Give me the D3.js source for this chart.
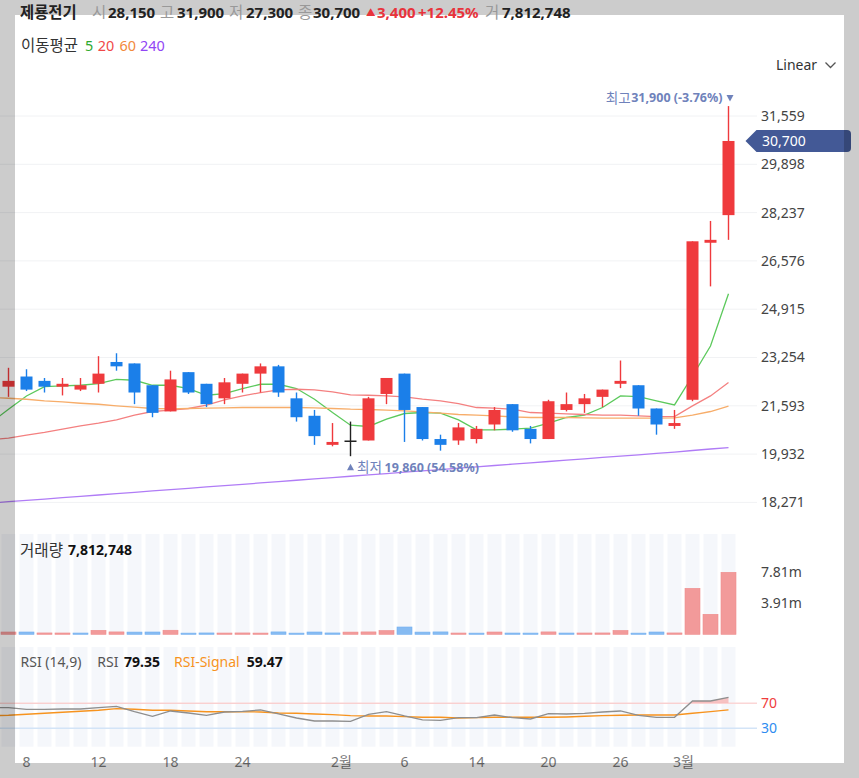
<!DOCTYPE html>
<html><head><meta charset="utf-8">
<script src="https://cdn.jsdelivr.net/npm/d3@7"></script>
<style>
html,body{margin:0;padding:0;background:#fff;}
svg{display:block;font-family:"Noto Sans","Noto Sans CJK KR",sans-serif;}
.kr{font-family:"Noto Sans CJK KR","Noto Sans",sans-serif;}
</style></head><body>
<svg id="c" width="859" height="778"></svg>
<script>
// ---------------- data ----------------
const stockName = "제룡전기";
const leadDate = "01-04"; // session before the first visible candle (only for indicator lines)
const dates = ["01-05","01-08","01-09","01-10","01-11","01-12","01-15","01-16","01-17","01-18","01-19","01-22","01-23","01-24","01-25","01-26","01-29","01-30","01-31","02-01","02-02","02-05","02-06","02-07","02-08","02-13","02-14","02-15","02-16","02-19","02-20","02-21","02-22","02-23","02-26","02-27","02-28","02-29","03-04","03-05","03-06"];
const open  = [22250,22600,22450,22250,22150,22350,23100,23050,22300,21400,22750,22350,21850,22350,22700,22950,21850,21250,20250,20400,20400,22000,22700,21550,20450,20400,20450,20950,21650,20800,20450,21450,21650,21900,22350,22300,21500,20900,21800,27200,28150];
const high  = [22900,22850,22550,22550,22550,23300,23400,23050,22300,22800,22750,22350,22550,22700,23050,23000,22050,21450,21000,21050,21900,22550,22700,21550,20600,21000,20900,21550,21650,20900,21800,22050,22000,22150,23150,22300,21500,21450,27250,27950,31900];
const low   = [21900,22100,22050,21950,22100,22050,22800,21650,21200,21400,22000,21550,21650,22050,22050,21900,21050,20250,20200,19860,20400,21650,20350,20400,20050,20250,20300,20750,20700,20300,20450,21400,21350,21550,22200,21250,20600,20800,21750,25700,27300];
const close = [22450,22150,22250,22350,22300,22700,22950,22050,21350,22500,22050,21650,22400,22700,22950,22050,21200,20550,20350,20400,21850,22550,21450,20450,20250,20850,20800,21450,20750,20450,21750,21650,21850,22150,22450,21500,20950,21000,27250,27300,30700];
const prevClose = 22200;
const volume = [290000,290000,170000,165000,160000,500000,300000,280000,290000,510000,150000,170000,160000,170000,155000,300000,150000,290000,170000,280000,300000,470000,920000,280000,300000,160000,150000,290000,160000,155000,300000,160000,165000,170000,480000,150000,290000,170000,5790000,2520000,7812748];
// indicator series: first value belongs to leadDate
const ma5   = [20996,21476,21932,22254,22275,22299,22357,22505,22471,22299,22299,22186,21956,22014,22186,22334,22334,22186,21819,21362,20927,20882,21133,21328,21362,21339,21109,20766,20766,20789,20824,20996,21191,21270,21534,21932,21911,21761,21623,22618,23647,25444];
const ma20  = [20423,20481,20584,20677,20790,20903,20996,21109,21270,21397,21441,21500,21613,21795,21932,22048,22138,22162,22138,22069,21966,21956,21932,21898,21819,21760,21671,21534,21510,21476,21362,21338,21315,21293,21270,21270,21247,21224,21224,21589,21932,22391];
const ma60  = [21877,21853,21819,21760,21726,21681,21647,21589,21544,21500,21486,21500,21510,21521,21534,21534,21534,21534,21521,21500,21476,21466,21441,21418,21383,21339,21294,21270,21247,21212,21191,21191,21191,21178,21167,21167,21167,21167,21178,21270,21397,21579];
const ma240 = [18250,18295,18341,18387,18433,18479,18525,18572,18618,18664,18710,18756,18802,18848,18894,18940,18986,19033,19079,19125,19171,19217,19263,19309,19355,19401,19447,19494,19540,19586,19632,19678,19724,19770,19816,19862,19908,19955,20001,20056,20107,20152];
const rsi    = [63.5,63.0,60.4,60.4,60.9,60.9,63.0,65.2,56.6,49.2,57.7,54.5,50.8,56.1,57.2,59.3,52.9,46.5,41.7,41.7,41.2,52.4,56.6,49.7,43.5,42.8,47.0,47.0,51.3,47.0,44.9,53.4,52.9,54.0,56.1,57.7,50.8,47.6,47.6,73.7,73.7,79.35];
const signal = [50.2,50.8,52.4,54.0,55.6,57.2,58.8,61.4,60.4,58.8,58.8,57.7,56.6,56.6,56.6,56.1,54.5,54.0,52.9,51.8,50.2,49.7,49.7,48.6,47.6,47.6,46.5,47.0,47.6,47.6,47.6,47.6,48.1,49.2,50.2,50.8,51.3,51.3,51.3,54.0,56.6,59.47];
const maPeriods = [5,20,60,240];
const priceTicks = [18271,19932,21593,23254,24915,26576,28237,29898,31559];
const volumeTicks = [3906374,7812748];
const rsiLevels = [70,30];
const xTickDates  = ["01-08","01-12","01-18","01-24","02-01","02-06","02-14","02-20","02-26","03-04"];
const xTickLabels = ["8","12","18","24","2월","6","14","20","26","3월"];

// ---------------- style ----------------
const C_UP="#ef3a3d", C_DN="#1b7fe9", C_FLAT="#222";
const maColors=["#5cc95c","#f48080","#f7ad6a","#b07cf6"];
const legColors=["#2eaa2e","#f04848","#f2893a","#9146f5"];
const annoColor="#6f82bb";
const FONT='"Noto Sans","Noto Sans CJK KR",sans-serif';

const svg=d3.select("#c");
const allDates=[leadDate,...dates];
const x=d3.scaleBand().domain(allDates).range([-18.5,737.5]).paddingInner(0).paddingOuter(0);
const cx=d=>x(d)+x.bandwidth()/2;
const y=d3.scaleLinear().domain([18271,31559]).range([502.4,116]);
const yv=d3.scaleLinear().domain([0,7812748]).range([634.3,572.3]);
const yr=d3.scaleLinear().domain([30,70]).range([728.3,703.3]);
const fmt=d3.format(",");
const f2=v=>d3.format(".2f")(v).replace("\u2212","-");

const candles=dates.map((d,i)=>({d,o:open[i],h:high[i],l:low[i],c:close[i],v:volume[i],pc:i?close[i-1]:prevClose}));

// helper for absolutely placed text pieces
function put(xp,yp,str,opt={}){
  const t=svg.append("text").attr("x",xp).attr("y",yp).attr("dy","0.35em")
    .attr("font-size",opt.size||14).attr("fill",opt.color||"#222").text(str);
  if(opt.bold) t.attr("font-weight","bold");
  if(opt.kr) t.attr("class","kr");
  if(opt.anchor) t.attr("text-anchor",opt.anchor);
  if(opt.len) t.attr("textLength",opt.len).attr("lengthAdjust","spacingAndGlyphs");
  return t;
}

// grid lines
svg.append("g").selectAll("line").data(priceTicks).join("line")
  .attr("x1",0).attr("x2",757).attr("y1",d=>y(d)).attr("y2",d=>y(d))
  .attr("stroke","#f1f2f4").attr("stroke-width",1);

// y axis labels
const ya=svg.append("g").attr("transform","translate(757,0)")
  .call(d3.axisRight(y).tickValues(priceTicks).tickFormat(fmt).tickSize(0).tickPadding(4));
ya.select(".domain").remove();
ya.selectAll("text").attr("font-size",14).attr("fill","#444").attr("font-family",FONT);

// MA lines
const maSeries=[ma5,ma20,ma60,ma240];
const line=d3.line().x((v,j)=>cx(allDates[j])).y(v=>y(v));
maSeries.forEach((s,k)=>{
  svg.append("path").attr("d",line(s)).attr("fill","none").attr("stroke",maColors[k]).attr("stroke-width",1.3);
});

// candles
const colOf=c=>c.c>c.o?C_UP:(c.c<c.o?C_DN:C_FLAT);
const cg=svg.append("g");
cg.selectAll("line").data(candles).join("line")
  .attr("x1",c=>cx(c.d)).attr("x2",c=>cx(c.d)).attr("y1",c=>y(c.h)).attr("y2",c=>y(c.l))
  .attr("stroke",colOf).attr("stroke-width",1.4);
cg.selectAll("rect").data(candles).join("rect")
  .attr("x",c=>cx(c.d)-6).attr("width",12)
  .attr("y",c=>y(Math.max(c.o,c.c)))
  .attr("height",c=>Math.max(1.5,Math.abs(y(c.o)-y(c.c))))
  .attr("fill",colOf);

// high / low annotations
const iHi=d3.maxIndex(high), iLo=d3.minIndex(low), last=close.length-1;
const hx=cx(dates[iHi]), hy=y(high[iHi])-8;
put(605.7,hy,"최고",{kr:true,size:13.5,color:annoColor,len:25});
put(hx-6,hy,fmt(high[iHi])+" ("+f2((close[last]-high[iHi])/high[iHi]*100)+"%)",{bold:true,size:12.5,color:annoColor,anchor:"end"});
svg.append("path").attr("d",`M${hx-2},${hy-3}L${hx+5},${hy-3}L${hx+1.5},${hy+3.5}Z`).attr("fill",annoColor);
const lx=cx(dates[iLo]), ly=y(low[iLo])+11;
svg.append("path").attr("d",`M${lx-3.5},${ly+3}L${lx+3.5},${ly+3}L${lx},${ly-3.5}Z`).attr("fill",annoColor);
put(lx+6.5,ly,"최저",{kr:true,size:13.5,color:annoColor,len:25});
put(lx+34,ly,fmt(low[iLo])+" ("+f2((close[last]-low[iLo])/low[iLo]*100)+"%)",{bold:true,size:12.5,color:annoColor});

// current price tag
const ty=y(close[last]);
svg.append("path").attr("d",`M745.5,${ty}L756.5,${ty-11}L847,${ty-11}Q851,${ty-11} 851,${ty-7}L851,${ty+7}Q851,${ty+11} 847,${ty+11}L756.5,${ty+11}Z`).attr("fill","#435996");
put(762,ty,fmt(close[last]),{color:"#fff"});

// Linear selector
put(776,65,"Linear",{color:"#333"});
svg.append("path").attr("d","M825.5,62.5L830.5,67.5L835.5,62.5").attr("fill","none").attr("stroke","#555").attr("stroke-width",1.3);

// MA legend
put(21,45.5,"이동평균",{color:"#333",kr:true,size:15.5,len:57});
const legX=[85,97.7,119.5,140];
maPeriods.forEach((p,k)=>put(legX[k],45.5,String(p),{color:legColors[k],size:14.4}));

// ---- volume pane ----
svg.append("g").selectAll("rect").data(dates).join("rect").attr("x",d=>cx(d)-7).attr("width",14).attr("y",534).attr("height",100.3).attr("fill","#f5f7fb");
const vcol=c=>c.c>=c.pc;
svg.append("g").selectAll("rect").data(candles).join("rect")
  .attr("x",c=>cx(c.d)-7.5).attr("width",15)
  .attr("y",c=>yv(c.v)).attr("height",c=>yv(0)-yv(c.v))
  .attr("fill",c=>vcol(c)?"#f29a9a":"#86bbf2")
  .attr("stroke",c=>vcol(c)?"#ef8c8c":"#74b0f0").attr("stroke-width",0.6);
const va=svg.append("g").attr("transform","translate(757,0)")
  .call(d3.axisRight(yv).tickValues(volumeTicks).tickFormat(v=>(v/1e6).toFixed(2)+"m").tickSize(0).tickPadding(4));
va.select(".domain").remove();
va.selectAll("text").attr("font-size",14).attr("fill","#444").attr("font-family",FONT);
put(20,550.5,"거래량",{color:"#333",kr:true,size:15.5,len:43});
put(68,550.5,fmt(volume[last]),{bold:true,color:"#111"});

// ---- RSI pane ----
svg.append("g").selectAll("rect").data(dates).join("rect").attr("x",d=>cx(d)-7).attr("width",14).attr("y",647).attr("height",99.7).attr("fill","#f5f7fb");
svg.append("line").attr("x1",0).attr("x2",757).attr("y1",yr(70)).attr("y2",yr(70)).attr("stroke","#fbd6d6").attr("stroke-width",1.5);
svg.append("line").attr("x1",0).attr("x2",757).attr("y1",yr(30)).attr("y2",yr(30)).attr("stroke","#d3e4f7").attr("stroke-width",1.5);
svg.append("defs").append("clipPath").attr("id","ob").append("rect").attr("x",0).attr("y",600).attr("width",859).attr("height",yr(70)-600);
svg.append("path").attr("clip-path","url(#ob)")
  .attr("d",d3.area().x((v,j)=>cx(allDates[j])).y0(yr(70)).y1(v=>yr(v))(rsi))
  .attr("fill","#f6b4b4").attr("opacity",0.8);
const rl=d3.line().x((v,j)=>cx(allDates[j])).y(v=>yr(v));
svg.append("path").attr("d",rl(signal)).attr("fill","none").attr("stroke","#f7931e").attr("stroke-width",1.4);
svg.append("path").attr("d",rl(rsi)).attr("fill","none").attr("stroke","#8e8e8e").attr("stroke-width",1.3);
rsiLevels.forEach(d=>put(761,yr(d),String(d),{color:d===70?"#f03c3c":"#2e8cf0"}));
put(20.5,662.5,"RSI (14,9)",{color:"#555"});
put(97.3,662.5,"RSI",{color:"#555"});
put(124,662.5,f2(rsi[rsi.length-1]),{bold:true,color:"#111"});
put(174,662.5,"RSI-Signal",{color:"#f7931e"});
put(246.7,662.5,f2(signal[signal.length-1]),{bold:true,color:"#111"});

// x axis
const xa=svg.append("g").attr("transform","translate(0,757)")
  .call(d3.axisBottom(x).tickValues(xTickDates).tickFormat((d,i)=>xTickLabels[i]).tickSize(0).tickPadding(0));
xa.select(".domain").remove();
xa.selectAll("text").attr("font-size",14).attr("fill","#777").attr("dy","0.71em")
  .attr("font-family",FONT)
  .attr("transform",(d,i)=>/월/.test(xTickLabels[i])?"translate(-9,0)":null);

// ---- frame overlay ----
const ov=svg.append("g").attr("fill","#000").attr("fill-opacity",0.2);
ov.append("rect").attr("x",0).attr("y",0).attr("width",859).attr("height",15);
ov.append("rect").attr("x",0).attr("y",763).attr("width",859).attr("height",15);
ov.append("rect").attr("x",0).attr("y",15).attr("width",15).attr("height",748);
ov.append("rect").attr("x",844).attr("y",15).attr("width",15).attr("height",748);

// ---- header ----
const chg=close[last]-close[last-1], pct=chg/close[last-1]*100;
const HY=13;
put(20,HY,stockName,{bold:true,kr:true,size:15.5,color:"#222",len:56.6});
const pairs=[["시",open[last]],["고",high[last]],["저",low[last]],["종",close[last]]];
const labX=[92,160,229,298], valX=[108,177,246,313];
pairs.forEach((p,k)=>{
  put(labX[k],HY,p[0],{color:"#999",kr:true,size:15.5});
  put(valX[k],HY,fmt(p[1]),{bold:true,size:15,color:"#222"});
});
put(366,HY,"▲",{color:"#e8333b",size:9.5});
put(377,HY,fmt(chg),{bold:true,size:15,color:"#e8333b"});
put(418,HY,"+"+f2(pct)+"%",{bold:true,size:15,color:"#e8333b"});
put(485,HY,"거",{color:"#999",kr:true,size:15.5});
put(502,HY,fmt(volume[last]),{bold:true,size:15,color:"#222"});
</script>
</body></html>
